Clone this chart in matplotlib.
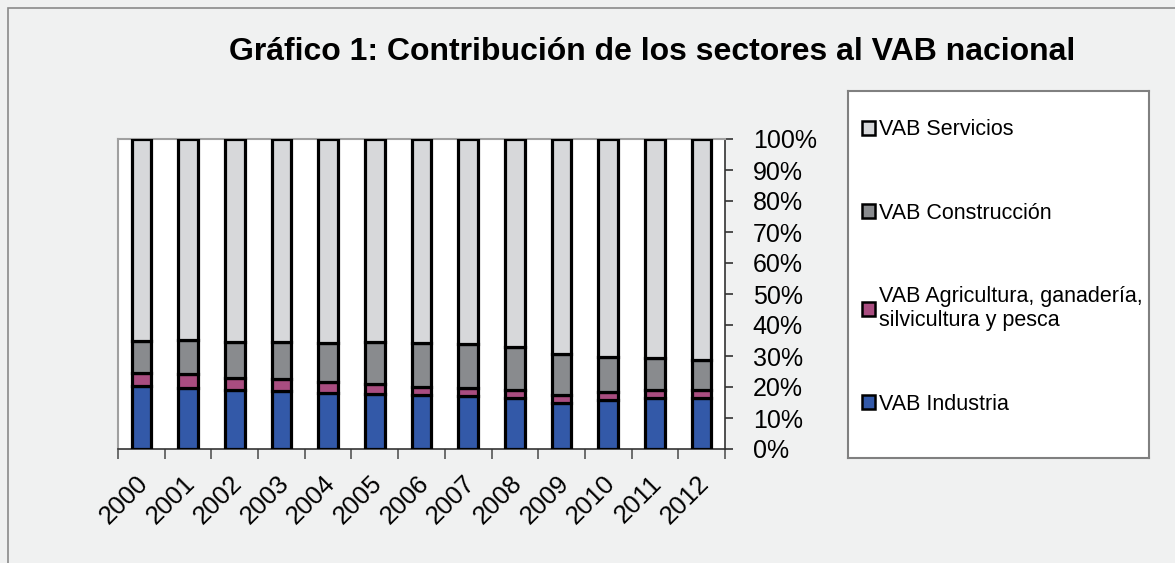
import numpy as np
import matplotlib.pyplot as plt
import matplotlib.transforms as mtransforms
from matplotlib.patches import Rectangle, Patch

# Contribución de los sectores al VAB nacional (% del total)
years = ["2000", "2001", "2002", "2003", "2004", "2005", "2006",
         "2007", "2008", "2009", "2010", "2011", "2012"]
industria = [20.3, 19.8, 19.1, 18.6, 18.2, 17.8, 17.3, 17.0, 16.6, 14.9, 15.8, 16.6, 16.6]
agricultura = [4.1, 4.3, 3.9, 3.9, 3.5, 3.3, 2.7, 2.6, 2.4, 2.4, 2.7, 2.3, 2.4]
construccion = [10.4, 11.0, 11.6, 12.0, 12.6, 13.3, 14.2, 14.2, 13.9, 13.2, 11.2, 10.6, 9.6]
servicios = [65.2, 64.9, 65.4, 65.5, 65.7, 65.6, 65.8, 66.2, 67.1, 69.5, 70.3, 70.5, 71.4]

labels = ["VAB Servicios", "VAB Construcción",
          "VAB Agricultura, ganadería,\nsilvicultura y pesca", "VAB Industria"]
colors = ["#d7d8da", "#898b8e", "#a94d80", "#3359a8"]

plt.rcParams['font.family'] = ['Liberation Sans', 'DejaVu Sans']

W, H = 1175, 563
fig = plt.figure(figsize=(W / 100, H / 100), dpi=100)
fig.patch.set_facecolor("#f0f1f1")

# outer frame (only top and left edges visible)
fig.patches.append(Rectangle((8 / W, -0.5), 2, 1.5 - 8 / H, transform=fig.transFigure,
                             fill=False, edgecolor="#8a8a8a", linewidth=1.2))

ax = fig.add_axes([118 / W, 1 - 449 / H, (725 - 118) / W, (449 - 139) / H])
ax.set_facecolor("white")

x = np.arange(len(years))
ind = np.array(industria)
agr = np.array(agricultura)
con = np.array(construccion)
ser = np.array(servicios)
tot = ind + agr + con + ser
ind, agr, con, ser = [v / tot * 100 for v in (ind, agr, con, ser)]

w = 0.42
kw = dict(width=w, edgecolor="black", linewidth=2.3, zorder=3)
ax.bar(x, ind, color=colors[3], **kw)
ax.bar(x, agr, bottom=ind, color=colors[2], **kw)
ax.bar(x, con, bottom=ind + agr, color=colors[1], **kw)
ax.bar(x, ser, bottom=ind + agr + con, color=colors[0], **kw)

ax.set_xlim(-0.5, len(years) - 0.5)
ax.set_ylim(0, 100)

ax.yaxis.tick_right()
ax.set_yticks(np.arange(0, 101, 10))
ax.set_yticklabels(["{}%".format(v) for v in range(0, 101, 10)], fontsize=18)
ax.tick_params(axis="y", direction="out", length=6, width=1.2, pad=14, colors="#333333",
               labelcolor="black")

ax.set_xticks(np.arange(-0.5, len(years), 1.0), minor=False)
ax.set_xticklabels([""] * (len(years) + 1))
ax.tick_params(axis="x", direction="out", length=7, width=1.2, colors="#555555")
ax.set_xticks(x, minor=True)
ax.set_xticklabels(years, minor=True, rotation=45, ha="right", va="top",
                   rotation_mode="anchor", fontsize=18.5)
ax.tick_params(axis="x", which="minor", length=0, pad=16)
shift = mtransforms.ScaledTranslation(-5 / 100, 0, fig.dpi_scale_trans)
for lab in ax.get_xticklabels(minor=True):
    lab.set_transform(lab.get_transform() + shift)

for s in ["top", "left"]:
    ax.spines[s].set_color("#a0a0a0")
    ax.spines[s].set_linewidth(1.5)
for s in ["right", "bottom"]:
    ax.spines[s].set_color("#333333")
    ax.spines[s].set_linewidth(1.2)

fig.text(652 / W, 1 - 52 / H, "Gráfico 1: Contribución de los sectores al VAB nacional",
         ha="center", va="center", fontsize=23, fontweight="bold")

# legend box
lax = fig.add_axes([848 / W, 1 - 458 / H, 301 / W, 367 / H])
lax.set_facecolor("white")
lax.set_xticks([])
lax.set_yticks([])
for s in lax.spines.values():
    s.set_color("#808080")
    s.set_linewidth(1.5)
handles = [Patch(facecolor=c, edgecolor="black", linewidth=1.8) for c in colors]
lax.legend(handles, labels, loc="center left", bbox_to_anchor=(-0.01, 0.52),
           frameon=False, fontsize=15.5, labelspacing=2.9, handlelength=0.6,
           handleheight=0.6, handletextpad=0.2, borderaxespad=0.4)

fig.savefig("out.png", dpi=100, facecolor=fig.get_facecolor())
